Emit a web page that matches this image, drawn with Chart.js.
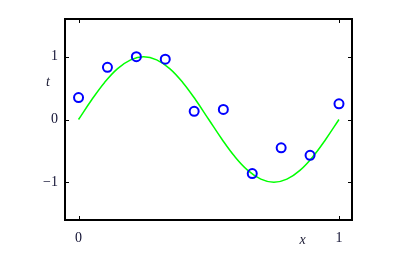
<!DOCTYPE html>
<html>
<head>
  <title>Sinusoidal fit</title>
  <style>
    body { margin: 0; background: #ffffff; }
    .chart-box { width: 407px; height: 259px; }
  </style>
</head>
<body>
  <div class="chart-box">
    <canvas id="fitChart" width="407" height="259"></canvas>
  </div>

  <script src="https://cdn.jsdelivr.net/npm/chart.js"></script>
  <script>
    // observed points (x, t)
    const sampleX = [0, 0.111, 0.222, 0.333, 0.444, 0.556, 0.667, 0.778, 0.889, 1];
    const sampleT = [0.35, 0.83, 1.0, 0.96, 0.13, 0.16, -0.86, -0.45, -0.57, 0.25];

    // green curve
    const curveX = [0, 0.05, 0.1, 0.15, 0.2, 0.25, 0.3, 0.35, 0.4, 0.45, 0.5,
                    0.55, 0.6, 0.65, 0.7, 0.75, 0.8, 0.85, 0.9, 0.95, 1];
    const curveT = [0, 0.31, 0.59, 0.81, 0.95, 1.0, 0.95, 0.81, 0.59, 0.31, 0,
                    -0.31, -0.59, -0.81, -0.95, -1.0, -0.95, -0.81, -0.59, -0.31, 0];

    const xTicks = [0, 1];
    const yTicks = [-1, 0, 1];

    const serif = '"Liberation Serif", "DejaVu Serif", serif';

    // frame, inside tick marks and the axis letters
    const frame = {
      id: 'frame',
      afterDraw(chart) {
        const ctx = chart.ctx;
        const a = chart.chartArea;
        const xs = chart.scales.x, ys = chart.scales.y;
        ctx.save();
        ctx.strokeStyle = '#000';
        ctx.lineWidth = 1;
        xTicks.forEach(v => {
          const px = Math.round(xs.getPixelForValue(v)) + 0.5;
          ctx.beginPath();
          ctx.moveTo(px, a.bottom); ctx.lineTo(px, a.bottom - 4);
          ctx.moveTo(px, a.top); ctx.lineTo(px, a.top + 4);
          ctx.stroke();
        });
        yTicks.forEach(v => {
          const py = Math.round(ys.getPixelForValue(v)) + 0.5;
          ctx.beginPath();
          ctx.moveTo(a.left, py); ctx.lineTo(a.left + 4, py);
          ctx.moveTo(a.right, py); ctx.lineTo(a.right - 4, py);
          ctx.stroke();
        });
        ctx.lineWidth = 2;
        ctx.strokeRect(a.left, a.top, a.right - a.left, a.bottom - a.top);

        ctx.fillStyle = '#1a1a33';
        ctx.font = 'italic 14px ' + serif;
        ctx.textAlign = 'center';
        ctx.textBaseline = 'middle';
        ctx.fillText('t', a.left - 17, ys.getPixelForValue(0.6));
        ctx.fillText('x', xs.getPixelForValue(0.86), a.bottom + 20);
        ctx.restore();
      }
    };

    new Chart(document.getElementById('fitChart').getContext('2d'), {
      type: 'scatter',
      data: {
        datasets: [{
          type: 'line',
          data: curveX.map((x, i) => ({ x: x, y: curveT[i] })),
          borderColor: '#00ff00',
          borderWidth: 1.5,
          pointRadius: 0,
          tension: 0.4,
          fill: false,
          order: 2
        }, {
          data: sampleX.map((x, i) => ({ x: x, y: sampleT[i] })),
          borderColor: '#0000ff',
          backgroundColor: 'rgba(0,0,0,0)',
          borderWidth: 2,
          pointRadius: 4.5,
          order: 1
        }]
      },
      options: {
        responsive: false,
        animation: false,
        layout: { padding: { left: 0, right: 55, top: 19, bottom: 0 } },
        plugins: { legend: { display: false }, tooltip: { enabled: false } },
        scales: {
          x: {
            type: 'linear',
            min: -0.052, max: 1.05,
            afterFit: s => { s.height = 39; },
            afterBuildTicks: s => { s.ticks = xTicks.map(v => ({ value: v })); },
            grid: { display: false, drawTicks: false },
            border: { display: false },
            ticks: { padding: 10, color: '#111133', font: { family: serif, size: 14 } }
          },
          y: {
            min: -1.6, max: 1.6,
            afterFit: s => { s.width = 65; },
            afterBuildTicks: s => { s.ticks = yTicks.map(v => ({ value: v })); },
            grid: { display: false, drawTicks: false },
            border: { display: false },
            ticks: {
              padding: 7, color: '#111133', font: { family: serif, size: 14 },
              callback: v => v < 0 ? '\u2212' + Math.abs(v) : String(v)
            }
          }
        }
      },
      plugins: [frame]
    });
  </script>
</body>
</html>
